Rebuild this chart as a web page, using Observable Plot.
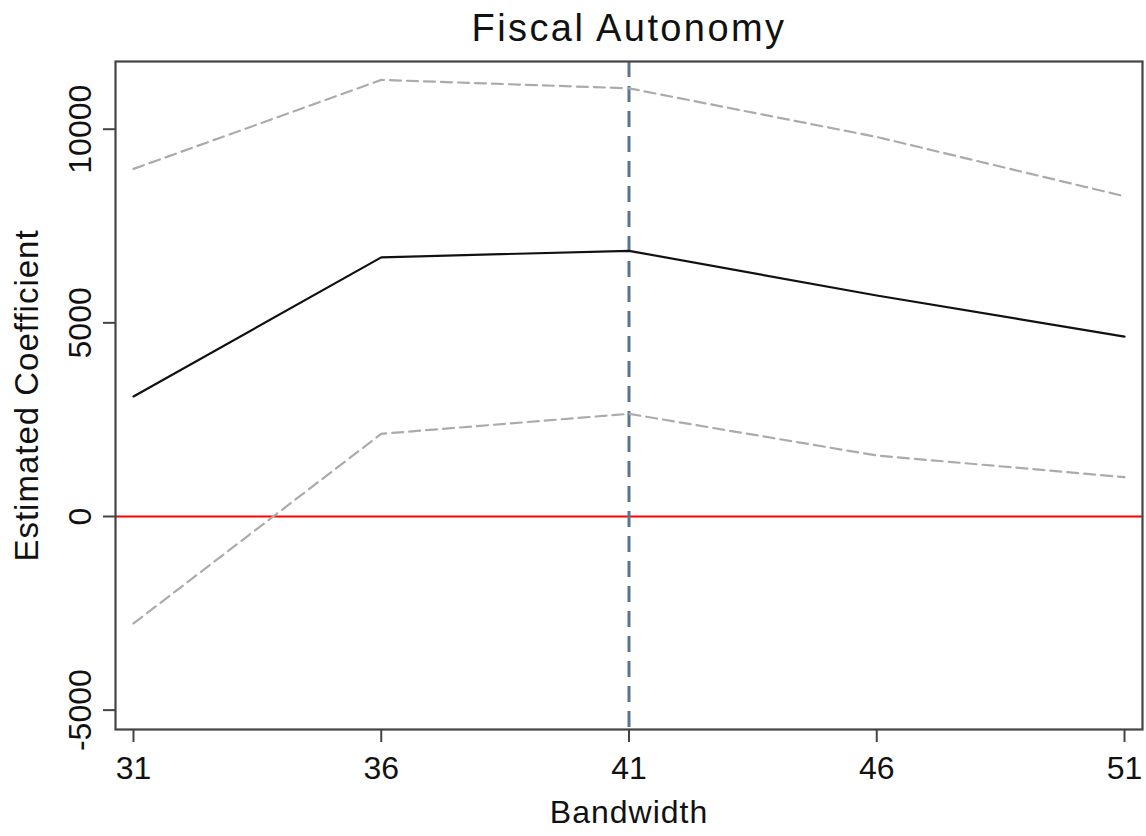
<!DOCTYPE html>
<html><head><meta charset="utf-8">
<script src="https://cdn.jsdelivr.net/npm/d3@7"></script>
<script src="https://cdn.jsdelivr.net/npm/@observablehq/plot@0.6"></script>
<style>body{margin:0;background:#fff;} svg{display:block}</style>
</head><body><div id="chart"></div>
<script>
const bandwidth = [31, 36, 41, 46, 51];
const estimate = [3100, 6690, 6860, 5705, 4646];
const upperCI = [8975, 11273, 11056, 9800, 8268];
const lowerCI = [-2762, 2134, 2651, 1575, 1015];
const xTicks = [31, 36, 41, 46, 51];
const yTicks = [-5000, 0, 5000, 10000];
const optimalBandwidth = [41];
const zeroLine = [0];
const titleText = ["Fiscal Autonomy"];
const xLabel = ["Bandwidth"];
const yLabel = ["Estimated Coefficient"];

const rows = bandwidth.map((b, i) => ({b, est: estimate[i], hi: upperCI[i], lo: lowerCI[i]}));
const font = "'Liberation Sans', Arial, sans-serif";

const chart = Plot.plot({
  width: 1146, height: 836,
  marginTop: 61, marginBottom: 107, marginLeft: 115, marginRight: 4,
  style: {fontFamily: font, fontSize: "32px", color: "#111", background: "#fff"},
  x: {domain: [30.637, 51.363], ticks: xTicks, label: null},
  y: {domain: [-5500, 11748], ticks: yTicks, label: null},
  marks: [
    Plot.ruleY(zeroLine, {stroke: "#ff0000", strokeWidth: 2}),
    Plot.ruleX(optimalBandwidth, {stroke: "#587493", strokeWidth: 3, strokeDasharray: "16,9"}),
    Plot.line(rows, {x: "b", y: "hi", stroke: "#ababab", strokeWidth: 2.2, strokeDasharray: "11,6"}),
    Plot.line(rows, {x: "b", y: "lo", stroke: "#ababab", strokeWidth: 2.2, strokeDasharray: "11,6"}),
    Plot.line(rows, {x: "b", y: "est", stroke: "#111", strokeWidth: 2.2}),
    Plot.frame({stroke: "#444", strokeWidth: 2.2}),
    Plot.axisX({ticks: xTicks, tickSize: 13, tickPadding: 14, stroke: "#444", strokeWidth: 2, fill: "#111", fontSize: 32, label: null, tickFormat: d => String(d)}),
    Plot.axisY({ticks: yTicks, tickSize: 12, tickPadding: 13, tickRotate: -90, stroke: "#444", strokeWidth: 2, fill: "#111", fontSize: 32, label: null, tickFormat: d => String(d)}),
    Plot.text(titleText, {text: d => d, frameAnchor: "top", dy: -21, lineAnchor: "bottom", textAnchor: "middle", fontSize: 38, fill: "#111"}),
    Plot.text(xLabel, {text: d => d, frameAnchor: "bottom", dy: 93, lineAnchor: "bottom", textAnchor: "middle", fontSize: 32, fill: "#111"}),
    Plot.text(yLabel, {text: d => d, frameAnchor: "left", dx: -78, rotate: -90, lineAnchor: "bottom", textAnchor: "middle", fontSize: 33, fill: "#111"})
  ]
});
const spacing = {"Fiscal Autonomy": "2.4px", "Estimated Coefficient": "1px", "Bandwidth": "1px"};
d3.select(chart).selectAll("text").each(function() {
  const s = spacing[this.textContent];
  if (s) d3.select(this).attr("letter-spacing", s);
});
document.getElementById("chart").appendChild(chart);
</script>
</body></html>
